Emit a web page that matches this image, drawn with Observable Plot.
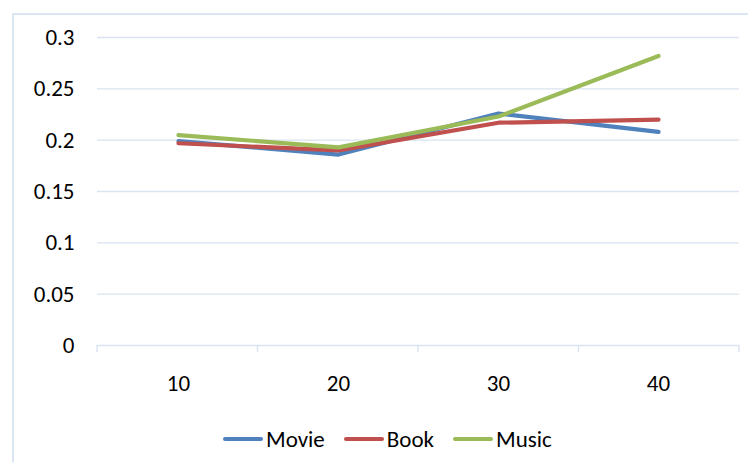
<!DOCTYPE html>
<html>
<head>
<meta charset="utf-8">
<script src="https://cdn.jsdelivr.net/npm/d3@7"></script>
<script src="https://cdn.jsdelivr.net/npm/@observablehq/plot@0.6"></script>
<style>
  body { margin: 0; background: #fff; }
  #wrap { position: relative; width: 748px; height: 462px; overflow: hidden; background: #fff;
          font-family: Calibri, Carlito, Lato, sans-serif; color: #000; }
  #frame { position: absolute; left: 12px; top: 13px; width: 800px; height: 520px;
           border-left: 2px solid #dce6f2; border-top: 2px solid #dce6f2; pointer-events: none; }
  #chart { position: relative; }
  #legend { position: relative; display: flex; align-items: center; height: 30px; margin-top: 14px;
            padding-left: 223px; font-size: 23px; }
  .item { display: flex; align-items: center; margin-right: 19px; }
  .swatch { width: 40px; height: 4px; border-radius: 2px; margin-right: 3px; }
</style>
</head>
<body>
<div id="wrap">
  <div id="frame"></div>
  <div id="chart"></div>
  <div id="legend"></div>
</div>
<script>
const categories = [10, 20, 30, 40];
const seriesNames = ["Movie", "Book", "Music"];
const movie = [0.199, 0.186, 0.226, 0.208];
const book  = [0.197, 0.190, 0.217, 0.220];
const music = [0.205, 0.193, 0.223, 0.282];
const yTicks = [0, 0.05, 0.1, 0.15, 0.2, 0.25, 0.3];
const yTickLabels = ["0", "0.05", "0.1", "0.15", "0.2", "0.25", "0.3"];
const colors = ["#4f81bd", "#c0504d", "#9bbb59"];

const seriesValues = [movie, book, music];
const data = [];
seriesNames.forEach((s, si) => {
  categories.forEach((c, ci) => data.push({series: s, cat: c, value: seriesValues[si][ci]}));
});

const gridColor = "#d9e3f1";

const plot = Plot.plot({
  width: 748,
  height: 410,
  marginLeft: 97,
  marginRight: 9,
  marginTop: 37,
  marginBottom: 65,
  style: {fontFamily: "Calibri, Carlito, Lato, sans-serif", fontSize: "23px", color: "#000", background: "transparent", overflow: "visible"},
  x: {type: "point", domain: categories, padding: 0.5, tickSize: 0, tickPadding: 29, label: null},
  y: {domain: [0, 0.3], ticks: yTicks, tickSize: 0, tickPadding: 23, label: null,
      tickFormat: (d) => yTickLabels[yTicks.indexOf(d)]},
  color: {domain: seriesNames, range: colors},
  marks: [
    Plot.ruleY(yTicks, {stroke: gridColor, strokeWidth: 1.4}),
    Plot.line(data, {x: "cat", y: "value", z: "series", stroke: "series", strokeWidth: 4.2,
                     strokeLinecap: "round", strokeLinejoin: "round"})
  ]
});
document.getElementById("chart").appendChild(plot);

// category boundary tick marks on the horizontal axis, from the plot's x scale
const xs = plot.scale("x");
const ys = plot.scale("y");
const n = xs.domain.length;
const step = (xs.range[1] - xs.range[0]) / (n - 1 + 2 * xs.padding);
const y0 = ys.apply(0);
const bounds = d3.range(n + 1).map(i => xs.range[0] + i * step);
d3.select(plot).append("g")
  .selectAll("line").data(bounds).join("line")
  .attr("x1", d => d).attr("x2", d => d)
  .attr("y1", y0).attr("y2", y0 + 7)
  .attr("stroke", gridColor).attr("stroke-width", 1.4);

// legend
const legend = d3.select("#legend");
seriesNames.forEach((s, i) => {
  const it = legend.append("div").attr("class", "item");
  it.append("div").attr("class", "swatch").style("background", colors[i]);
  it.append("span").text(s);
});
</script>
</body>
</html>
